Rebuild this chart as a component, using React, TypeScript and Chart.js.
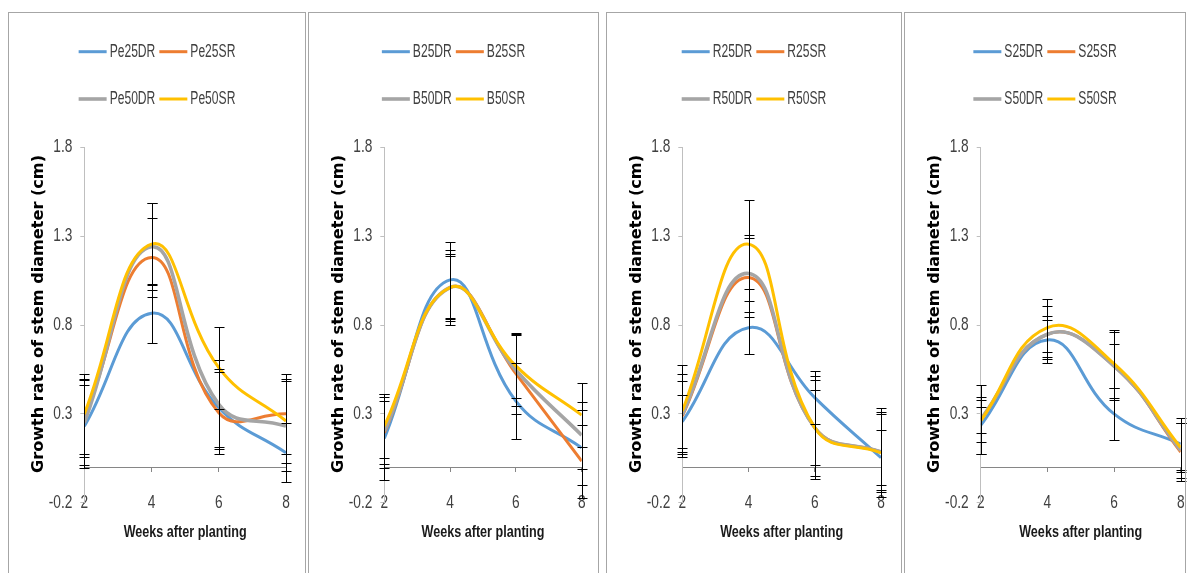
import React, { useEffect, useRef } from 'react';
import { Chart, registerables } from 'chart.js';

Chart.register(...registerables);

// ---------------- data ----------------
const weeks = [2, 4, 6, 8];
const xTickValues = [2, 4, 6, 8];
const yTickValues = [-0.2, 0.3, 0.8, 1.3, 1.8];
const yTitle = 'Growth rate of stem diameter (cm)';
const xTitle = 'Weeks after planting';

const peLabels = ['Pe25DR', 'Pe25SR', 'Pe50DR', 'Pe50SR'];
const peMeans = [
  [0.23, 0.866, 0.334, 0.081],
  [0.275, 1.18, 0.306, 0.3],
  [0.25, 1.24, 0.353, 0.231],
  [0.3, 1.255, 0.56, 0.26],
];
const peErrors = [
  [0.235, 0.166, 0.22, 0.166],
  [0.22, 0.22, 0.23, 0.226],
  [0.24, 0.244, 0.25, 0.254],
  [0.226, 0.23, 0.23, 0.234],
];

const bLabels = ['B25DR', 'B25SR', 'B50DR', 'B50SR'];
const bMeans = [
  [0.162, 1.054, 0.372, 0.109],
  [0.194, 1.011, 0.526, 0.034],
  [0.203, 1.011, 0.545, 0.18],
  [0.231, 1.011, 0.57, 0.293],
];
const bErrors = [
  [0.233, 0.214, 0.216, 0.21],
  [0.178, 0.175, 0.229, 0.206],
  [0.207, 0.21, 0.2, 0.188],
  [0.18, 0.19, 0.178, 0.179],
];

const rLabels = ['R25DR', 'R25SR', 'R50DR', 'R50SR'];
const rMeans = [
  [0.256, 0.785, 0.391, 0.053],
  [0.287, 1.067, 0.222, 0.086],
  [0.297, 1.09, 0.222, 0.086],
  [0.316, 1.255, 0.222, 0.081],
];
const rErrors = [
  [0.15, 0.15, 0.15, 0.154],
  [0.2, 0.222, 0.27, 0.214],
  [0.225, 0.218, 0.21, 0.224],
  [0.26, 0.25, 0.29, 0.25],
];

const sLabels = ['S25DR', 'S25SR', 'S50DR', 'S50SR'];
const sMeans = [
  [0.235, 0.716, 0.3, 0.13],
  [0.265, 0.748, 0.569, 0.085],
  [0.27, 0.748, 0.569, 0.095],
  [0.26, 0.785, 0.582, 0.11],
];
const sErrors = [
  [0.16, 0.11, 0.145, 0.148],
  [0.075, 0.1, 0.125, 0.165],
  [0.195, 0.16, 0.19, 0.155],
  [0.12, 0.164, 0.19, 0.14],
];

// ---------------- style / layout ----------------
const seriesColors = ['#5B9BD5', '#ED7D31', '#A5A5A5', '#FFC000'];
const seriesWidths = [3, 3, 3.6, 3];
const NARROW = '"Liberation Sans Narrow", "Arial Narrow", "Liberation Sans", Arial, sans-serif';
const PANEL_TOP = 12;
const CANVAS_H = 562;
const PLOT_TOP_ABS = 147.3;
const PLOT_BOTTOM_ABS = 502.7;
const X_SCALE_H = 20;
const TEXT_COLOR = '#404040';
const TICK_FONT_SIZE = 18.5;
const TICK_SX = 0.74;

type PanelCfg = {
  labels: string[];
  means: number[][];
  errors: number[][];
  left: number;
  width: number;
  axisX: number;
  endX: number;
};

const panels: PanelCfg[] = [
  { labels: peLabels, means: peMeans, errors: peErrors, left: 8, width: 298, axisX: 84.3, endX: 286 },
  { labels: bLabels, means: bMeans, errors: bErrors, left: 308, width: 291, axisX: 384.3, endX: 581.7 },
  { labels: rLabels, means: rMeans, errors: rErrors, left: 606, width: 296, axisX: 682.3, endX: 881 },
  { labels: sLabels, means: sMeans, errors: sErrors, left: 904, width: 282, axisX: 980.7, endX: 1180.7 },
];

function Panel({ cfg }: { cfg: PanelCfg }) {
  const ref = useRef<HTMLCanvasElement | null>(null);
  const canvasW = cfg.width + 20;

  useEffect(() => {
    if (!ref.current) return;
    const padRight = cfg.left + canvasW - cfg.endX;
    const padTop = PLOT_TOP_ABS - PANEL_TOP;
    const padBottom = CANVAS_H - (PLOT_BOTTOM_ABS - PANEL_TOP) - X_SCALE_H;

    // condensed axis text (Excel's narrow look): scale glyphs horizontally about their anchor
    const condensedAxisText = {
      id: 'condensedAxisText',
      beforeDraw(chart: any) {
        const ctx = chart.ctx;
        const orig = ctx.fillText;
        chart.$origFillText = orig;
        ctx.fillText = function (text: string, x: number, y: number) {
          this.save();
          this.translate(x, y);
          this.scale(TICK_SX, 1);
          orig.call(this, text, 0, 0);
          this.restore();
        };
      },
      beforeDatasetsDraw(chart: any) {
        if (chart.$origFillText) {
          chart.ctx.fillText = chart.$origFillText;
          chart.$origFillText = null;
        }
      },
    };

    const errorBarPlugin = {
      id: 'errorBars',
      afterDatasetsDraw(chart: any) {
        const { ctx } = chart;
        const xs = chart.scales.x;
        const ys = chart.scales.y;
        ctx.save();
        ctx.strokeStyle = '#000000';
        ctx.lineWidth = 1;
        cfg.means.forEach((row, i) => {
          row.forEach((v, j) => {
            const e = cfg.errors[i][j];
            const px = Math.round(xs.getPixelForValue(weeks[j])) + 0.5;
            const yHi = Math.round(ys.getPixelForValue(v + e)) + 0.5;
            const yLo = Math.round(ys.getPixelForValue(v - e)) + 0.5;
            ctx.beginPath();
            ctx.moveTo(px, yHi);
            ctx.lineTo(px, yLo);
            ctx.moveTo(px - 5, yHi);
            ctx.lineTo(px + 5, yHi);
            ctx.moveTo(px - 5, yLo);
            ctx.lineTo(px + 5, yLo);
            ctx.stroke();
          });
        });
        ctx.restore();
      },
    };

    const decorPlugin = {
      id: 'decor',
      afterDraw(chart: any) {
        const { ctx } = chart;
        ctx.save();
        // ----- legend -----
        ctx.font = '18px ' + NARROW;
        const sx = 45.7 / ctx.measureText('Pe25DR').width;
        const w = cfg.labels.map((l) => ctx.measureText(l).width * sx);
        const col1 = Math.max(w[0], w[2]);
        const col2 = Math.max(w[1], w[3]);
        const lineLen = 28;
        const gap = 3;
        const total = lineLen + gap + col1 + 4 + lineLen + gap + col2;
        const startX = cfg.width / 2 - total / 2;
        const colX = [startX, startX + lineLen + gap + col1 + 4];
        const rowY = [51.7 - PANEL_TOP, 99 - PANEL_TOP];
        cfg.labels.forEach((label, k) => {
          const x = colX[k % 2];
          const y = rowY[Math.floor(k / 2)];
          ctx.beginPath();
          ctx.strokeStyle = seriesColors[k];
          ctx.lineWidth = seriesWidths[k];
          ctx.lineCap = 'butt';
          ctx.moveTo(x, y);
          ctx.lineTo(x + lineLen, y);
          ctx.stroke();
          ctx.save();
          ctx.translate(x + lineLen + gap, y + 0.5);
          ctx.scale(sx, 1);
          ctx.fillStyle = TEXT_COLOR;
          ctx.textAlign = 'left';
          ctx.textBaseline = 'middle';
          ctx.fillText(label, 0, 0);
          ctx.restore();
        });
        // ----- y title -----
        ctx.save();
        ctx.font = 'bold 16px "DejaVu Sans", Verdana, sans-serif';
        const ySx = 318 / ctx.measureText(yTitle).width;
        ctx.translate(34.7, 314 - PANEL_TOP);
        ctx.rotate(-Math.PI / 2);
        ctx.scale(ySx, 1);
        ctx.fillStyle = '#000000';
        ctx.textAlign = 'center';
        ctx.textBaseline = 'alphabetic';
        ctx.fillText(yTitle, 0, 0);
        ctx.restore();
        // ----- x title -----
        ctx.save();
        ctx.font = 'bold 16.5px ' + NARROW;
        const xSx = 123 / ctx.measureText(xTitle).width;
        const area = chart.chartArea;
        ctx.translate((area.left + area.right) / 2, 537.3 - PANEL_TOP);
        ctx.scale(xSx, 1);
        ctx.fillStyle = '#1a1a1a';
        ctx.textAlign = 'center';
        ctx.textBaseline = 'alphabetic';
        ctx.fillText(xTitle, 0, 0);
        ctx.restore();
        ctx.restore();
      },
    };

    const tickFont = { family: NARROW, size: TICK_FONT_SIZE, lineHeight: 1.2 };
    const halfLine = (TICK_FONT_SIZE * 1.2) / 2;

    const chart = new Chart(ref.current, {
      type: 'line',
      data: {
        datasets: cfg.labels.map((label, i) => ({
          label,
          data: weeks.map((wk, j) => ({ x: wk, y: cfg.means[i][j] })),
          borderColor: seriesColors[i],
          backgroundColor: seriesColors[i],
          borderWidth: seriesWidths[i],
          pointRadius: 0,
          tension: 0.45,
          fill: false,
          order: 3 - i,
        })),
      },
      options: {
        animation: false,
        responsive: false,
        maintainAspectRatio: false,
        events: [],
        layout: { padding: { left: 0, right: padRight, top: padTop, bottom: padBottom } },
        plugins: {
          legend: { display: false },
          tooltip: { enabled: false },
          title: { display: false },
        },
        scales: {
          x: {
            type: 'linear',
            position: 'bottom',
            min: 2,
            max: 8,
            afterBuildTicks: (s: any) => {
              s.ticks = xTickValues.map((v) => ({ value: v }));
            },
            afterFit: (s: any) => {
              s.height = X_SCALE_H;
            },
            grid: { display: false, drawTicks: false },
            border: { display: false },
            ticks: {
              mirror: true,
              padding: -halfLine,
              font: tickFont,
              color: TEXT_COLOR,
              maxRotation: 0,
              autoSkip: false,
              callback: (v: any) => String(v),
            },
          },
          x0: {
            type: 'linear',
            axis: 'x',
            position: { y: 0 },
            min: 2,
            max: 8,
            afterBuildTicks: (s: any) => {
              s.ticks = xTickValues.map((v) => ({ value: v }));
            },
            ticks: { display: false },
            grid: { drawOnChartArea: false, drawTicks: true, tickLength: 4, color: '#868686' },
            border: { display: true, color: '#868686' },
          },
          y: {
            type: 'linear',
            position: 'left',
            min: -0.2,
            max: 1.8,
            afterBuildTicks: (s: any) => {
              s.ticks = yTickValues.map((v) => ({ value: v }));
            },
            afterFit: (s: any) => {
              s.width = cfg.axisX - cfg.left;
            },
            grid: { drawOnChartArea: false, drawTicks: true, tickLength: 4, color: '#BFBFBF' },
            border: { display: true, color: '#BFBFBF' },
            ticks: {
              padding: 8,
              font: tickFont,
              color: TEXT_COLOR,
              callback: (v: any) => Number(v).toFixed(1),
            },
          },
        } as any,
      },
      plugins: [condensedAxisText, errorBarPlugin, decorPlugin],
    } as any);
    return () => chart.destroy();
  }, [cfg]);

  return (
    <canvas
      ref={ref}
      width={canvasW}
      height={CANVAS_H}
      style={{ position: 'absolute', left: cfg.left, top: PANEL_TOP, width: canvasW, height: CANVAS_H }}
    />
  );
}

export default function App() {
  return (
    <div
      style={{
        position: 'absolute',
        left: 0,
        top: 0,
        width: 1187,
        height: 573,
        overflow: 'hidden',
        background: '#ffffff',
      }}
    >
      {panels.map((p, i) => (
        <Panel key={'c' + i} cfg={p} />
      ))}
      {panels.map((p, i) => (
        <div
          key={'b' + i}
          style={{
            position: 'absolute',
            left: p.left,
            top: PANEL_TOP,
            width: p.width,
            height: 600,
            border: '1px solid #A6A6A6',
            boxSizing: 'border-box',
            pointerEvents: 'none',
          }}
        />
      ))}
    </div>
  );
}
